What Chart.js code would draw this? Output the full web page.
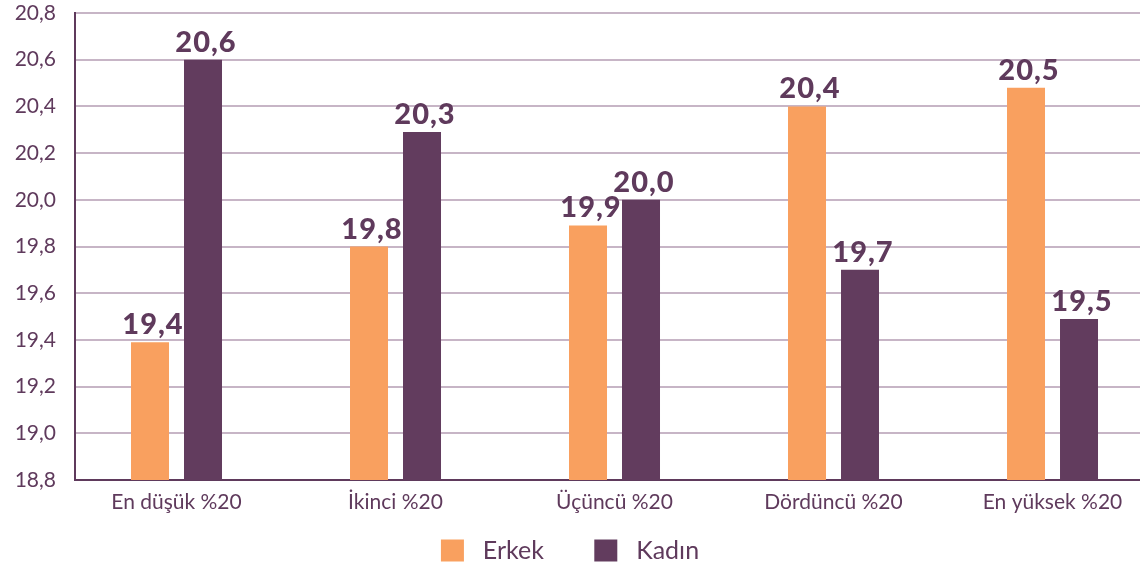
<!DOCTYPE html>
<html>
<head>
<meta charset="utf-8">
<script src="https://cdn.jsdelivr.net/npm/chart.js@4"></script>
<style>
  html, body { margin: 0; padding: 0; background: #fff; }
  #wrap { width: 1140px; height: 573px; }
</style>
</head>
<body>
<div id="wrap"><canvas id="myChart"></canvas></div>
<script>
const categories = ["En düşük %20", "İkinci %20", "Üçüncü %20", "Dördüncü %20", "En yüksek %20"];
const erkekValues = [19.39, 19.8, 19.89, 20.4, 20.48];
const kadinValues = [20.6, 20.29, 20.0, 19.7, 19.49];
const seriesNames = ["Erkek", "Kadın"];
const yTicks = [18.8, 19.0, 19.2, 19.4, 19.6, 19.8, 20.0, 20.2, 20.4, 20.6, 20.8];

const purple = "#5f3a5c";
const fmt = (v) => v.toFixed(1).replace(".", ",");

// value labels above bars
const barLabels = {
  id: "barLabels",
  afterDatasetsDraw(chart) {
    const ctx = chart.ctx;
    ctx.save();
    ctx.font = "900 29px Lato";
    ctx.letterSpacing = "1px";
    ctx.fillStyle = purple;
    ctx.textAlign = "center";
    ctx.textBaseline = "alphabetic";
    chart.data.datasets.forEach((ds, i) => {
      const meta = chart.getDatasetMeta(i);
      meta.data.forEach((bar, j) => {
        ctx.fillText(fmt(ds.data[j].y), bar.x + 3, bar.y - 8);
      });
    });
    ctx.restore();
  },
};

const toPoints = (vals) => vals.map((v, i) => ({ x: i, y: v }));

new Chart(document.getElementById("myChart").getContext("2d"), {
  type: "bar",
  data: {
    datasets: [
      {
        label: seriesNames[0],
        data: toPoints(erkekValues),
        backgroundColor: "#f9a05f",
        categoryPercentage: 0.484,
        barPercentage: 0.717,
      },
      {
        label: seriesNames[1],
        data: toPoints(kadinValues),
        backgroundColor: "#623c5e",
        categoryPercentage: 0.484,
        barPercentage: 0.717,
      },
    ],
  },
  options: {
    responsive: true,
    maintainAspectRatio: false,
    animation: false,
    layout: { padding: 0 },
    plugins: {
      tooltip: { enabled: false },
      legend: {
        position: "bottom",
        labels: {
          boxWidth: 23,
          boxHeight: 22,
          padding: 12,
          color: purple,
          font: { family: "Lato", size: 25 },
          generateLabels(chart) {
            return chart.data.datasets.map((ds, i) => ({
              text: " " + ds.label + (i === 0 ? "      " : ""),
              fillStyle: ds.backgroundColor,
              strokeStyle: ds.backgroundColor,
              lineWidth: 0,
              fontColor: purple,
              datasetIndex: i,
            }));
          },
        },
      },
    },
    scales: {
      x: {
        type: "linear",
        bounds: "data",
        offset: false,
        min: -0.4635,
        max: 4.3995,
        grid: { display: false, offset: false },
        border: { display: true, color: purple, width: 2 },
        afterBuildTicks(scale) {
          scale.ticks = categories.map((c, i) => ({ value: i }));
        },
        afterFit(scale) {
          scale.height = 46;
        },
        ticks: {
          autoSkip: false,
          maxRotation: 0,
          padding: 2,
          color: purple,
          font: { family: "Lato", size: 21 },
          callback: (v) => categories[v],
        },
      },
      y: {
        min: 18.8,
        max: 20.8,
        afterBuildTicks(scale) {
          scale.ticks = yTicks.map((v) => ({ value: v }));
        },
        afterFit(scale) {
          scale.width = 75;
          scale.paddingTop = 13;
        },
        grid: { color: "#c7b5c6", lineWidth: 2, drawTicks: false },
        border: { display: true, color: purple, width: 2 },
        ticks: {
          padding: 19,
          color: purple,
          font: { family: "Lato", size: 21 },
          callback: (v) => fmt(v),
        },
      },
    },
  },
  plugins: [barLabels],
});
</script>
</body>
</html>
